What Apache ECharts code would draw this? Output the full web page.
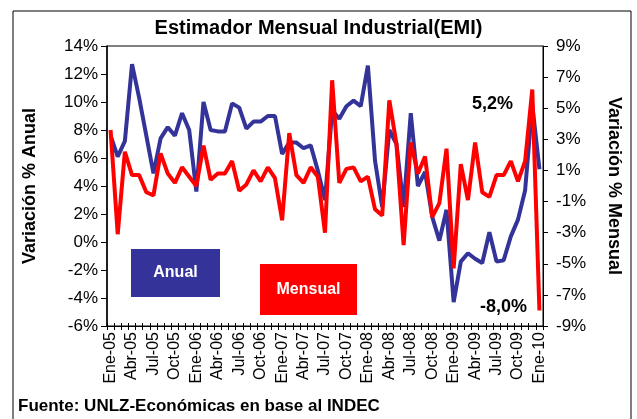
<!DOCTYPE html>
<html>
<head>
<meta charset="utf-8">
<script src="https://cdn.jsdelivr.net/npm/echarts@6/dist/echarts.min.js"></script>
<style>
  html, body { margin: 0; padding: 0; background: #fff; }
  #chart { width: 637px; height: 419px; }
</style>
</head>
<body>
<div id="chart"></div>
<script>
// meses Ene-05 .. Ene-10
const categories = [
  'Ene-05','Feb-05','Mar-05','Abr-05','May-05','Jun-05','Jul-05','Ago-05','Sep-05','Oct-05','Nov-05','Dic-05',
  'Ene-06','Feb-06','Mar-06','Abr-06','May-06','Jun-06','Jul-06','Ago-06','Sep-06','Oct-06','Nov-06','Dic-06',
  'Ene-07','Feb-07','Mar-07','Abr-07','May-07','Jun-07','Jul-07','Ago-07','Sep-07','Oct-07','Nov-07','Dic-07',
  'Ene-08','Feb-08','Mar-08','Abr-08','May-08','Jun-08','Jul-08','Ago-08','Sep-08','Oct-08','Nov-08','Dic-08',
  'Ene-09','Feb-09','Mar-09','Abr-09','May-09','Jun-09','Jul-09','Ago-09','Sep-09','Oct-09','Nov-09','Dic-09',
  'Ene-10'
];

// variacion % anual (eje izquierdo)
const anual = [
  7.6, 6.1, 7.2, 12.7, 10.3, 7.6, 4.9, 7.4, 8.2, 7.6, 9.2, 8.0,
  3.6, 10.0, 8.0, 7.9, 7.9, 9.9, 9.6, 8.1, 8.6, 8.6, 9.0, 9.0,
  6.3, 7.1, 7.1, 6.7, 6.9, 5.1, 3.0, 9.4, 8.8, 9.7, 10.1, 9.7,
  12.6, 5.8, 2.5, 8.0, 7.0, 2.5, 9.2, 4.0, 5.0, 1.8, 0.1, 2.3,
  -4.3, -1.4, -0.8, -1.2, -1.5, 0.7, -1.4, -1.3, 0.4, 1.6, 3.7, 9.8,
  5.2
];

// variacion % mensual (eje derecho)
const mensual = [
  3.6, -3.1, 2.2, 0.7, 0.7, -0.4, -0.6, 2.1, 0.8, 0.2, 1.2, 0.6,
  0.0, 2.6, 0.4, 0.8, 0.8, 1.6, -0.3, 0.1, 1.0, 0.3, 1.2, 0.5,
  -2.2, 3.4, 0.7, 0.2, 1.2, 0.6, -3.0, 6.8, 0.2, 1.1, 1.2, 0.3,
  0.6, -1.5, -1.9, 5.5, 2.7, -3.8, 2.8, 0.8, 1.9, -2.0, -1.1, 2.4,
  -5.3, 1.4, -0.9, 2.8, -0.4, -0.7, 0.7, 0.7, 1.6, 0.3, 1.6, 6.2,
  -8.0
];

const rightTicks = [-9, -7, -5, -3, -1, 1, 3, 5, 7, 9];

const fmt = v => String(v).replace('.', ',');

const FONT = 'Liberation Sans, Arial, sans-serif';

// solo el ultimo punto lleva etiqueta
function withLastLabel(arr, offset) {
  return arr.map((v, i) => i === arr.length - 1 ? {
    value: v,
    label: {
      show: true, position: 'inside', offset: offset,
      formatter: p => fmt(Number(p.value).toFixed(1)) + '%',
      color: '#000', fontWeight: 'bold', fontSize: 18, fontFamily: FONT
    }
  } : v);
}

const chart = echarts.init(document.getElementById('chart'));
chart.setOption({
  backgroundColor: '#fff',
  animation: false,
  title: {
    text: 'Estimador Mensual Industrial(EMI)',
    left: 'center', top: 13,
    textStyle: { fontFamily: FONT, fontWeight: 'bold', fontSize: 20, color: '#000' }
  },
  grid: { left: 107, right: 94, top: 46, bottom: 93, show: true, borderColor: '#000', borderWidth: 1 },
  xAxis: [{
    type: 'category',
    data: categories,
    boundaryGap: true,
    axisLine: { onZero: false, lineStyle: { color: '#000', width: 1 } },
    axisTick: { show: true, interval: 0, length: 4, lineStyle: { color: '#000' } },
    axisLabel: { interval: 2, rotate: 90, margin: 6, fontSize: 16, fontFamily: FONT, color: '#000' }
  }, {
    type: 'category',
    data: categories,
    position: 'bottom',
    boundaryGap: true,
    axisLine: { show: false, onZero: false },
    axisTick: { show: true, inside: true, interval: 0, length: 3, lineStyle: { color: '#000' } },
    axisLabel: { show: false }
  }],
  yAxis: [{
    type: 'value',
    min: -6, max: 14, interval: 2,
    name: 'Variación % Anual',
    nameLocation: 'middle', nameRotate: 90, nameGap: 68,
    nameTextStyle: { fontFamily: FONT, fontWeight: 'bold', fontSize: 18, color: '#000' },
    axisLine: { show: true, lineStyle: { color: '#000', width: 1.5 } },
    axisTick: { show: true, length: 6, lineStyle: { color: '#000' } },
    axisLabel: { formatter: '{value}%', margin: 9, fontSize: 17, fontFamily: FONT, color: '#000' },
    splitLine: { show: false }
  }, {
    type: 'value',
    min: -9, max: 9,
    position: 'right',
    name: 'Variación % Mensual',
    nameLocation: 'middle', nameRotate: -90, nameGap: 62,
    nameTextStyle: { fontFamily: FONT, fontWeight: 'bold', fontSize: 18, color: '#000' },
    axisLine: { show: true, lineStyle: { color: '#000', width: 1 } },
    axisTick: { show: true, length: 5, customValues: rightTicks, lineStyle: { color: '#000' } },
    axisLabel: { formatter: '{value}%', customValues: rightTicks, margin: 13, fontSize: 17, fontFamily: FONT, color: '#000' },
    splitLine: { show: false }
  }],
  series: [{
    name: 'Anual',
    type: 'line',
    yAxisIndex: 0,
    data: withLastLabel(anual, [-47, -65]),
    symbol: 'circle',
    symbolSize: 0,
    lineStyle: { color: '#333399', width: 4 },
    itemStyle: { color: '#333399' }
  }, {
    name: 'Mensual',
    type: 'line',
    yAxisIndex: 1,
    data: withLastLabel(mensual, [-36, -3]),
    symbol: 'circle',
    symbolSize: 0,
    lineStyle: { color: '#ff0000', width: 4 },
    itemStyle: { color: '#ff0000' }
  }],
  graphic: [
    { type: 'rect', shape: { x: 13, y: 11, width: 618, height: 420 }, style: { fill: 'none', stroke: '#000', lineWidth: 1 }, z: -1 },
    { type: 'rect', shape: { x: 131, y: 249, width: 89, height: 48 }, style: { fill: '#333399' } },
    { type: 'text', x: 175.5, y: 273, style: { text: 'Anual', fill: '#fff', font: 'bold 16px ' + FONT, align: 'center', verticalAlign: 'middle' } },
    { type: 'rect', shape: { x: 260, y: 264, width: 97, height: 51 }, style: { fill: '#ff0000' } },
    { type: 'text', x: 308.5, y: 289.5, style: { text: 'Mensual', fill: '#fff', font: 'bold 16px ' + FONT, align: 'center', verticalAlign: 'middle' } },
    { type: 'text', left: 18, top: 398, style: { text: 'Fuente: UNLZ-Económicas en base al INDEC', fill: '#000', font: 'bold 17px ' + FONT } }
  ]
});
</script>
</body>
</html>
